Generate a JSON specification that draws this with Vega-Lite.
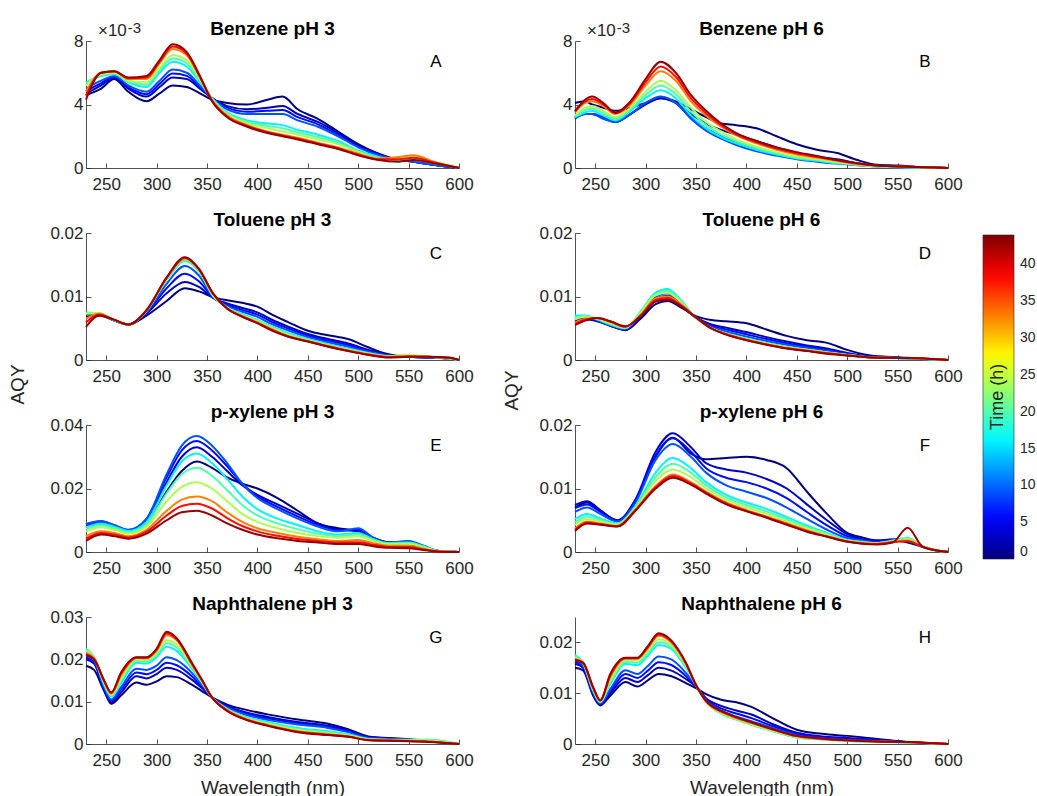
{
"$schema": "https://vega.github.io/schema/vega-lite/v6.json",
"background": "white",
"padding": {"left": 8, "top": 19, "right": 0, "bottom": 2},
"columns": 2,
"spacing": {"row": 65, "column": 116},
"bounds": "flush",
"config": {
  "font": "Liberation Sans",
  "view": {"stroke": null},
  "axis": {"domainColor": "#262626", "tickColor": "#262626", "labelColor": "#262626", "labelFontSize": 17, "labelFont": "Liberation Sans", "tickSize": -5, "grid": false, "labelFlush": false, "labelOverlap": false, "titleFont": "Liberation Sans", "titleFontSize": 19, "titleFontWeight": "normal", "titleColor": "#262626", "domainWidth": 0.8, "tickWidth": 0.8},
  "axisX": {"labelPadding": 13},
  "axisY": {"labelPadding": 8},
  "title": {"fontSize": 19, "fontWeight": "bold", "color": "#000000", "offset": -6, "font": "Liberation Sans"}
},
"datasets": {
"A": [
{"t":0,"w":230,"v":4.6},{"t":0,"w":245,"v":5.0},{"t":0,"w":258,"v":5.6},{"t":0,"w":272,"v":4.8},{"t":0,"w":290,"v":4.2},{"t":0,"w":303,"v":4.7},{"t":0,"w":316,"v":5.2},{"t":0,"w":330,"v":5.1},{"t":0,"w":343,"v":4.7},{"t":0,"w":355,"v":4.3},{"t":0,"w":370,"v":4.1},{"t":0,"w":390,"v":4.0},{"t":0,"w":410,"v":4.3},{"t":0,"w":425,"v":4.5},{"t":0,"w":440,"v":3.7},{"t":0,"w":460,"v":3.1},{"t":0,"w":480,"v":2.3},{"t":0,"w":500,"v":1.5},{"t":0,"w":520,"v":0.9},{"t":0,"w":540,"v":0.5},{"t":0,"w":555,"v":0.4},{"t":0,"w":575,"v":0.2},{"t":0,"w":600,"v":0},
{"t":3,"w":230,"v":4.7},{"t":3,"w":245,"v":5.2},{"t":3,"w":258,"v":5.7},{"t":3,"w":272,"v":5.0},{"t":3,"w":290,"v":4.5},{"t":3,"w":303,"v":5.1},{"t":3,"w":316,"v":5.7},{"t":3,"w":330,"v":5.6},{"t":3,"w":343,"v":5.0},{"t":3,"w":355,"v":4.4},{"t":3,"w":370,"v":3.9},{"t":3,"w":390,"v":3.7},{"t":3,"w":410,"v":3.8},{"t":3,"w":425,"v":3.9},{"t":3,"w":440,"v":3.4},{"t":3,"w":460,"v":2.9},{"t":3,"w":480,"v":2.2},{"t":3,"w":500,"v":1.4},{"t":3,"w":520,"v":0.9},{"t":3,"w":540,"v":0.5},{"t":3,"w":555,"v":0.4},{"t":3,"w":575,"v":0.2},{"t":3,"w":600,"v":0},
{"t":6,"w":230,"v":4.85},{"t":6,"w":245,"v":5.35},{"t":6,"w":258,"v":5.75},{"t":6,"w":272,"v":5.1},{"t":6,"w":290,"v":4.65},{"t":6,"w":303,"v":5.3},{"t":6,"w":316,"v":5.95},{"t":6,"w":330,"v":5.8},{"t":6,"w":343,"v":5.1},{"t":6,"w":355,"v":4.4},{"t":6,"w":370,"v":3.8},{"t":6,"w":390,"v":3.55},{"t":6,"w":410,"v":3.6},{"t":6,"w":425,"v":3.65},{"t":6,"w":440,"v":3.2},{"t":6,"w":460,"v":2.75},{"t":6,"w":480,"v":2.1},{"t":6,"w":500,"v":1.35},{"t":6,"w":520,"v":0.85},{"t":6,"w":540,"v":0.5},{"t":6,"w":555,"v":0.4},{"t":6,"w":575,"v":0.2},{"t":6,"w":600,"v":0},
{"t":9,"w":230,"v":5.0},{"t":9,"w":245,"v":5.5},{"t":9,"w":258,"v":5.8},{"t":9,"w":272,"v":5.2},{"t":9,"w":290,"v":4.8},{"t":9,"w":303,"v":5.5},{"t":9,"w":316,"v":6.2},{"t":9,"w":330,"v":6.0},{"t":9,"w":343,"v":5.2},{"t":9,"w":355,"v":4.4},{"t":9,"w":370,"v":3.7},{"t":9,"w":390,"v":3.4},{"t":9,"w":410,"v":3.4},{"t":9,"w":425,"v":3.4},{"t":9,"w":440,"v":3.0},{"t":9,"w":460,"v":2.6},{"t":9,"w":480,"v":2.0},{"t":9,"w":500,"v":1.3},{"t":9,"w":520,"v":0.8},{"t":9,"w":540,"v":0.5},{"t":9,"w":555,"v":0.4},{"t":9,"w":575,"v":0.2},{"t":9,"w":600,"v":0},
{"t":16,"w":230,"v":5.4},{"t":16,"w":245,"v":5.8},{"t":16,"w":258,"v":5.9},{"t":16,"w":272,"v":5.4},{"t":16,"w":290,"v":5.1},{"t":16,"w":303,"v":6.0},{"t":16,"w":316,"v":6.7},{"t":16,"w":330,"v":6.4},{"t":16,"w":343,"v":5.4},{"t":16,"w":355,"v":4.4},{"t":16,"w":370,"v":3.5},{"t":16,"w":390,"v":3.0},{"t":16,"w":410,"v":2.8},{"t":16,"w":425,"v":2.7},{"t":16,"w":440,"v":2.4},{"t":16,"w":460,"v":2.1},{"t":16,"w":480,"v":1.7},{"t":16,"w":500,"v":1.1},{"t":16,"w":520,"v":0.7},{"t":16,"w":540,"v":0.5},{"t":16,"w":555,"v":0.5},{"t":16,"w":575,"v":0.3},{"t":16,"w":600,"v":0},
{"t":20,"w":230,"v":5.3},{"t":20,"w":245,"v":5.85},{"t":20,"w":258,"v":5.95},{"t":20,"w":272,"v":5.45},{"t":20,"w":290,"v":5.25},{"t":20,"w":303,"v":6.15},{"t":20,"w":316,"v":6.9},{"t":20,"w":330,"v":6.6},{"t":20,"w":343,"v":5.5},{"t":20,"w":355,"v":4.35},{"t":20,"w":370,"v":3.45},{"t":20,"w":390,"v":2.9},{"t":20,"w":410,"v":2.65},{"t":20,"w":425,"v":2.5},{"t":20,"w":440,"v":2.25},{"t":20,"w":460,"v":1.95},{"t":20,"w":480,"v":1.6},{"t":20,"w":500,"v":1.05},{"t":20,"w":520,"v":0.65},{"t":20,"w":540,"v":0.55},{"t":20,"w":555,"v":0.6},{"t":20,"w":575,"v":0.35},{"t":20,"w":600,"v":0},
{"t":24,"w":230,"v":5.2},{"t":24,"w":245,"v":5.9},{"t":24,"w":258,"v":6.0},{"t":24,"w":272,"v":5.5},{"t":24,"w":290,"v":5.4},{"t":24,"w":303,"v":6.3},{"t":24,"w":316,"v":7.1},{"t":24,"w":330,"v":6.8},{"t":24,"w":343,"v":5.6},{"t":24,"w":355,"v":4.3},{"t":24,"w":370,"v":3.4},{"t":24,"w":390,"v":2.8},{"t":24,"w":410,"v":2.5},{"t":24,"w":425,"v":2.3},{"t":24,"w":440,"v":2.1},{"t":24,"w":460,"v":1.8},{"t":24,"w":480,"v":1.5},{"t":24,"w":500,"v":1.0},{"t":24,"w":520,"v":0.6},{"t":24,"w":540,"v":0.6},{"t":24,"w":555,"v":0.7},{"t":24,"w":575,"v":0.4},{"t":24,"w":600,"v":0},
{"t":33,"w":230,"v":4.8},{"t":33,"w":245,"v":6.0},{"t":33,"w":258,"v":6.1},{"t":33,"w":272,"v":5.6},{"t":33,"w":290,"v":5.6},{"t":33,"w":303,"v":6.6},{"t":33,"w":316,"v":7.5},{"t":33,"w":330,"v":7.1},{"t":33,"w":343,"v":5.7},{"t":33,"w":355,"v":4.3},{"t":33,"w":370,"v":3.3},{"t":33,"w":390,"v":2.7},{"t":33,"w":410,"v":2.3},{"t":33,"w":425,"v":2.1},{"t":33,"w":440,"v":1.9},{"t":33,"w":460,"v":1.6},{"t":33,"w":480,"v":1.3},{"t":33,"w":500,"v":0.9},{"t":33,"w":520,"v":0.6},{"t":33,"w":540,"v":0.7},{"t":33,"w":555,"v":0.8},{"t":33,"w":575,"v":0.4},{"t":33,"w":600,"v":0},
{"t":38,"w":230,"v":4.55},{"t":38,"w":245,"v":6.0},{"t":38,"w":258,"v":6.1},{"t":38,"w":272,"v":5.65},{"t":38,"w":290,"v":5.7},{"t":38,"w":303,"v":6.7},{"t":38,"w":316,"v":7.65},{"t":38,"w":330,"v":7.2},{"t":38,"w":343,"v":5.75},{"t":38,"w":355,"v":4.25},{"t":38,"w":370,"v":3.25},{"t":38,"w":390,"v":2.65},{"t":38,"w":410,"v":2.25},{"t":38,"w":425,"v":2.05},{"t":38,"w":440,"v":1.85},{"t":38,"w":460,"v":1.55},{"t":38,"w":480,"v":1.25},{"t":38,"w":500,"v":0.85},{"t":38,"w":520,"v":0.55},{"t":38,"w":540,"v":0.55},{"t":38,"w":555,"v":0.65},{"t":38,"w":575,"v":0.35},{"t":38,"w":600,"v":0},
{"t":43,"w":230,"v":4.3},{"t":43,"w":245,"v":6.0},{"t":43,"w":258,"v":6.1},{"t":43,"w":272,"v":5.7},{"t":43,"w":290,"v":5.8},{"t":43,"w":303,"v":6.8},{"t":43,"w":316,"v":7.8},{"t":43,"w":330,"v":7.3},{"t":43,"w":343,"v":5.8},{"t":43,"w":355,"v":4.2},{"t":43,"w":370,"v":3.2},{"t":43,"w":390,"v":2.6},{"t":43,"w":410,"v":2.2},{"t":43,"w":425,"v":2.0},{"t":43,"w":440,"v":1.8},{"t":43,"w":460,"v":1.5},{"t":43,"w":480,"v":1.2},{"t":43,"w":500,"v":0.8},{"t":43,"w":520,"v":0.5},{"t":43,"w":540,"v":0.4},{"t":43,"w":555,"v":0.5},{"t":43,"w":575,"v":0.3},{"t":43,"w":600,"v":0}
],
"B": [
{"t":0,"w":230,"v":4.1},{"t":0,"w":240,"v":4.2},{"t":0,"w":247,"v":4.0},{"t":0,"w":258,"v":3.8},{"t":0,"w":270,"v":3.6},{"t":0,"w":285,"v":3.8},{"t":0,"w":300,"v":4.1},{"t":0,"w":315,"v":4.4},{"t":0,"w":330,"v":4.2},{"t":0,"w":345,"v":3.7},{"t":0,"w":360,"v":3.2},{"t":0,"w":375,"v":2.8},{"t":0,"w":390,"v":2.7},{"t":0,"w":410,"v":2.5},{"t":0,"w":430,"v":2.0},{"t":0,"w":450,"v":1.5},{"t":0,"w":470,"v":1.15},{"t":0,"w":490,"v":0.95},{"t":0,"w":510,"v":0.5},{"t":0,"w":530,"v":0.2},{"t":0,"w":550,"v":0.15},{"t":0,"w":575,"v":0.05},{"t":0,"w":600,"v":0},
{"t":3,"w":230,"v":3.2},{"t":3,"w":240,"v":3.4},{"t":3,"w":247,"v":3.4},{"t":3,"w":258,"v":3.2},{"t":3,"w":270,"v":2.9},{"t":3,"w":285,"v":3.4},{"t":3,"w":300,"v":4.0},{"t":3,"w":315,"v":4.4},{"t":3,"w":330,"v":4.1},{"t":3,"w":345,"v":3.4},{"t":3,"w":360,"v":2.8},{"t":3,"w":375,"v":2.4},{"t":3,"w":390,"v":2.1},{"t":3,"w":410,"v":1.7},{"t":3,"w":430,"v":1.3},{"t":3,"w":450,"v":0.95},{"t":3,"w":470,"v":0.7},{"t":3,"w":490,"v":0.55},{"t":3,"w":510,"v":0.3},{"t":3,"w":530,"v":0.15},{"t":3,"w":550,"v":0.1},{"t":3,"w":575,"v":0.05},{"t":3,"w":600,"v":0},
{"t":6,"w":230,"v":3.15},{"t":6,"w":240,"v":3.4},{"t":6,"w":247,"v":3.4},{"t":6,"w":258,"v":3.15},{"t":6,"w":270,"v":2.9},{"t":6,"w":285,"v":3.4},{"t":6,"w":300,"v":4.05},{"t":6,"w":315,"v":4.45},{"t":6,"w":330,"v":4.1},{"t":6,"w":345,"v":3.2},{"t":6,"w":360,"v":2.5},{"t":6,"w":375,"v":2.0},{"t":6,"w":390,"v":1.6},{"t":6,"w":410,"v":1.2},{"t":6,"w":430,"v":0.9},{"t":6,"w":450,"v":0.65},{"t":6,"w":470,"v":0.48},{"t":6,"w":490,"v":0.35},{"t":6,"w":510,"v":0.22},{"t":6,"w":530,"v":0.12},{"t":6,"w":550,"v":0.07},{"t":6,"w":575,"v":0.03},{"t":6,"w":600,"v":0},
{"t":9,"w":230,"v":3.1},{"t":9,"w":240,"v":3.4},{"t":9,"w":247,"v":3.4},{"t":9,"w":258,"v":3.1},{"t":9,"w":270,"v":2.9},{"t":9,"w":285,"v":3.4},{"t":9,"w":300,"v":4.1},{"t":9,"w":315,"v":4.5},{"t":9,"w":330,"v":4.1},{"t":9,"w":345,"v":3.1},{"t":9,"w":360,"v":2.35},{"t":9,"w":375,"v":1.85},{"t":9,"w":390,"v":1.45},{"t":9,"w":410,"v":1.05},{"t":9,"w":430,"v":0.78},{"t":9,"w":450,"v":0.55},{"t":9,"w":470,"v":0.4},{"t":9,"w":490,"v":0.28},{"t":9,"w":510,"v":0.18},{"t":9,"w":530,"v":0.1},{"t":9,"w":550,"v":0.05},{"t":9,"w":575,"v":0.02},{"t":9,"w":600,"v":0},
{"t":16,"w":230,"v":3.2},{"t":16,"w":240,"v":3.5},{"t":16,"w":247,"v":3.6},{"t":16,"w":258,"v":3.3},{"t":16,"w":270,"v":3.0},{"t":16,"w":285,"v":3.6},{"t":16,"w":300,"v":4.4},{"t":16,"w":315,"v":4.9},{"t":16,"w":330,"v":4.4},{"t":16,"w":345,"v":3.3},{"t":16,"w":360,"v":2.5},{"t":16,"w":375,"v":1.95},{"t":16,"w":390,"v":1.55},{"t":16,"w":410,"v":1.15},{"t":16,"w":430,"v":0.85},{"t":16,"w":450,"v":0.6},{"t":16,"w":470,"v":0.45},{"t":16,"w":490,"v":0.3},{"t":16,"w":510,"v":0.2},{"t":16,"w":530,"v":0.1},{"t":16,"w":550,"v":0.05},{"t":16,"w":575,"v":0.02},{"t":16,"w":600,"v":0},
{"t":20,"w":230,"v":3.25},{"t":20,"w":240,"v":3.65},{"t":20,"w":247,"v":3.75},{"t":20,"w":258,"v":3.45},{"t":20,"w":270,"v":3.1},{"t":20,"w":285,"v":3.7},{"t":20,"w":300,"v":4.6},{"t":20,"w":315,"v":5.2},{"t":20,"w":330,"v":4.65},{"t":20,"w":345,"v":3.55},{"t":20,"w":360,"v":2.7},{"t":20,"w":375,"v":2.1},{"t":20,"w":390,"v":1.68},{"t":20,"w":410,"v":1.25},{"t":20,"w":430,"v":0.92},{"t":20,"w":450,"v":0.66},{"t":20,"w":470,"v":0.5},{"t":20,"w":490,"v":0.34},{"t":20,"w":510,"v":0.21},{"t":20,"w":530,"v":0.11},{"t":20,"w":550,"v":0.06},{"t":20,"w":575,"v":0.03},{"t":20,"w":600,"v":0},
{"t":24,"w":230,"v":3.3},{"t":24,"w":240,"v":3.8},{"t":24,"w":247,"v":3.9},{"t":24,"w":258,"v":3.6},{"t":24,"w":270,"v":3.2},{"t":24,"w":285,"v":3.8},{"t":24,"w":300,"v":4.8},{"t":24,"w":315,"v":5.5},{"t":24,"w":330,"v":4.9},{"t":24,"w":345,"v":3.8},{"t":24,"w":360,"v":2.9},{"t":24,"w":375,"v":2.3},{"t":24,"w":390,"v":1.8},{"t":24,"w":410,"v":1.35},{"t":24,"w":430,"v":1.0},{"t":24,"w":450,"v":0.72},{"t":24,"w":470,"v":0.55},{"t":24,"w":490,"v":0.38},{"t":24,"w":510,"v":0.22},{"t":24,"w":530,"v":0.12},{"t":24,"w":550,"v":0.08},{"t":24,"w":575,"v":0.04},{"t":24,"w":600,"v":0},
{"t":33,"w":230,"v":3.5},{"t":33,"w":240,"v":4.1},{"t":33,"w":247,"v":4.2},{"t":33,"w":258,"v":3.9},{"t":33,"w":270,"v":3.4},{"t":33,"w":285,"v":4.0},{"t":33,"w":300,"v":5.2},{"t":33,"w":315,"v":6.1},{"t":33,"w":330,"v":5.5},{"t":33,"w":345,"v":4.2},{"t":33,"w":360,"v":3.3},{"t":33,"w":375,"v":2.6},{"t":33,"w":390,"v":2.05},{"t":33,"w":410,"v":1.55},{"t":33,"w":430,"v":1.15},{"t":33,"w":450,"v":0.85},{"t":33,"w":470,"v":0.65},{"t":33,"w":490,"v":0.45},{"t":33,"w":510,"v":0.25},{"t":33,"w":530,"v":0.14},{"t":33,"w":550,"v":0.1},{"t":33,"w":575,"v":0.05},{"t":33,"w":600,"v":0},
{"t":38,"w":230,"v":3.55},{"t":38,"w":240,"v":4.2},{"t":38,"w":247,"v":4.35},{"t":38,"w":258,"v":4.0},{"t":38,"w":270,"v":3.45},{"t":38,"w":285,"v":4.1},{"t":38,"w":300,"v":5.4},{"t":38,"w":315,"v":6.4},{"t":38,"w":330,"v":5.75},{"t":38,"w":345,"v":4.4},{"t":38,"w":360,"v":3.45},{"t":38,"w":375,"v":2.7},{"t":38,"w":390,"v":2.12},{"t":38,"w":410,"v":1.62},{"t":38,"w":430,"v":1.22},{"t":38,"w":450,"v":0.92},{"t":38,"w":470,"v":0.7},{"t":38,"w":490,"v":0.48},{"t":38,"w":510,"v":0.28},{"t":38,"w":530,"v":0.15},{"t":38,"w":550,"v":0.1},{"t":38,"w":575,"v":0.05},{"t":38,"w":600,"v":0},
{"t":43,"w":230,"v":3.6},{"t":43,"w":240,"v":4.3},{"t":43,"w":247,"v":4.5},{"t":43,"w":258,"v":4.1},{"t":43,"w":270,"v":3.5},{"t":43,"w":285,"v":4.2},{"t":43,"w":300,"v":5.6},{"t":43,"w":315,"v":6.7},{"t":43,"w":330,"v":6.0},{"t":43,"w":345,"v":4.6},{"t":43,"w":360,"v":3.6},{"t":43,"w":375,"v":2.8},{"t":43,"w":390,"v":2.2},{"t":43,"w":410,"v":1.7},{"t":43,"w":430,"v":1.3},{"t":43,"w":450,"v":1.0},{"t":43,"w":470,"v":0.75},{"t":43,"w":490,"v":0.5},{"t":43,"w":510,"v":0.3},{"t":43,"w":530,"v":0.15},{"t":43,"w":550,"v":0.1},{"t":43,"w":575,"v":0.05},{"t":43,"w":600,"v":0}
],
"C": [
{"t":0,"w":230,"v":6.8},{"t":0,"w":243,"v":7.0},{"t":0,"w":257,"v":6.3},{"t":0,"w":272,"v":5.6},{"t":0,"w":290,"v":7.0},{"t":0,"w":310,"v":9.3},{"t":0,"w":328,"v":11.3},{"t":0,"w":342,"v":10.8},{"t":0,"w":356,"v":9.9},{"t":0,"w":370,"v":9.4},{"t":0,"w":385,"v":9.0},{"t":0,"w":400,"v":8.4},{"t":0,"w":415,"v":7.1},{"t":0,"w":430,"v":6.0},{"t":0,"w":450,"v":4.6},{"t":0,"w":470,"v":3.9},{"t":0,"w":490,"v":3.3},{"t":0,"w":510,"v":2.0},{"t":0,"w":530,"v":0.9},{"t":0,"w":550,"v":0.5},{"t":0,"w":570,"v":0.4},{"t":0,"w":590,"v":0.2},{"t":0,"w":600,"v":0},
{"t":3,"w":230,"v":7.2},{"t":3,"w":243,"v":7.2},{"t":3,"w":257,"v":6.3},{"t":3,"w":272,"v":5.6},{"t":3,"w":290,"v":7.3},{"t":3,"w":310,"v":10.5},{"t":3,"w":328,"v":12.3},{"t":3,"w":342,"v":11.5},{"t":3,"w":356,"v":9.8},{"t":3,"w":370,"v":8.9},{"t":3,"w":385,"v":8.2},{"t":3,"w":400,"v":7.5},{"t":3,"w":415,"v":6.3},{"t":3,"w":430,"v":5.3},{"t":3,"w":450,"v":4.1},{"t":3,"w":470,"v":3.3},{"t":3,"w":490,"v":2.6},{"t":3,"w":510,"v":1.6},{"t":3,"w":530,"v":0.8},{"t":3,"w":550,"v":0.5},{"t":3,"w":570,"v":0.4},{"t":3,"w":590,"v":0.2},{"t":3,"w":600,"v":0},
{"t":6,"w":230,"v":7.25},{"t":6,"w":243,"v":7.25},{"t":6,"w":257,"v":6.3},{"t":6,"w":272,"v":5.6},{"t":6,"w":290,"v":7.45},{"t":6,"w":310,"v":11.3},{"t":6,"w":328,"v":13.6},{"t":6,"w":342,"v":12.4},{"t":6,"w":356,"v":9.85},{"t":6,"w":370,"v":8.7},{"t":6,"w":385,"v":7.9},{"t":6,"w":400,"v":7.15},{"t":6,"w":415,"v":5.95},{"t":6,"w":430,"v":5.0},{"t":6,"w":450,"v":3.85},{"t":6,"w":470,"v":3.05},{"t":6,"w":490,"v":2.35},{"t":6,"w":510,"v":1.45},{"t":6,"w":530,"v":0.75},{"t":6,"w":550,"v":0.5},{"t":6,"w":570,"v":0.4},{"t":6,"w":590,"v":0.2},{"t":6,"w":600,"v":0},
{"t":9,"w":230,"v":7.3},{"t":9,"w":243,"v":7.3},{"t":9,"w":257,"v":6.3},{"t":9,"w":272,"v":5.6},{"t":9,"w":290,"v":7.6},{"t":9,"w":310,"v":12.0},{"t":9,"w":328,"v":14.8},{"t":9,"w":342,"v":13.3},{"t":9,"w":356,"v":9.9},{"t":9,"w":370,"v":8.5},{"t":9,"w":385,"v":7.6},{"t":9,"w":400,"v":6.8},{"t":9,"w":415,"v":5.6},{"t":9,"w":430,"v":4.7},{"t":9,"w":450,"v":3.6},{"t":9,"w":470,"v":2.8},{"t":9,"w":490,"v":2.1},{"t":9,"w":510,"v":1.3},{"t":9,"w":530,"v":0.7},{"t":9,"w":550,"v":0.5},{"t":9,"w":570,"v":0.4},{"t":9,"w":590,"v":0.2},{"t":9,"w":600,"v":0},
{"t":16,"w":230,"v":7.5},{"t":16,"w":243,"v":7.3},{"t":16,"w":257,"v":6.3},{"t":16,"w":272,"v":5.6},{"t":16,"w":290,"v":7.7},{"t":16,"w":310,"v":12.6},{"t":16,"w":328,"v":15.6},{"t":16,"w":342,"v":14.0},{"t":16,"w":356,"v":10.1},{"t":16,"w":370,"v":8.3},{"t":16,"w":385,"v":7.2},{"t":16,"w":400,"v":6.3},{"t":16,"w":415,"v":5.2},{"t":16,"w":430,"v":4.3},{"t":16,"w":450,"v":3.3},{"t":16,"w":470,"v":2.5},{"t":16,"w":490,"v":1.8},{"t":16,"w":510,"v":1.1},{"t":16,"w":530,"v":0.6},{"t":16,"w":550,"v":0.6},{"t":16,"w":570,"v":0.5},{"t":16,"w":590,"v":0.2},{"t":16,"w":600,"v":0},
{"t":20,"w":230,"v":7.4},{"t":20,"w":243,"v":7.35},{"t":20,"w":257,"v":6.35},{"t":20,"w":272,"v":5.6},{"t":20,"w":290,"v":7.75},{"t":20,"w":310,"v":12.7},{"t":20,"w":328,"v":15.75},{"t":20,"w":342,"v":14.1},{"t":20,"w":356,"v":10.15},{"t":20,"w":370,"v":8.25},{"t":20,"w":385,"v":7.1},{"t":20,"w":400,"v":6.2},{"t":20,"w":415,"v":5.1},{"t":20,"w":430,"v":4.15},{"t":20,"w":450,"v":3.2},{"t":20,"w":470,"v":2.4},{"t":20,"w":490,"v":1.7},{"t":20,"w":510,"v":1.05},{"t":20,"w":530,"v":0.6},{"t":20,"w":550,"v":0.7},{"t":20,"w":570,"v":0.5},{"t":20,"w":590,"v":0.25},{"t":20,"w":600,"v":0},
{"t":24,"w":230,"v":7.3},{"t":24,"w":243,"v":7.4},{"t":24,"w":257,"v":6.4},{"t":24,"w":272,"v":5.6},{"t":24,"w":290,"v":7.8},{"t":24,"w":310,"v":12.8},{"t":24,"w":328,"v":15.9},{"t":24,"w":342,"v":14.2},{"t":24,"w":356,"v":10.2},{"t":24,"w":370,"v":8.2},{"t":24,"w":385,"v":7.0},{"t":24,"w":400,"v":6.1},{"t":24,"w":415,"v":5.0},{"t":24,"w":430,"v":4.0},{"t":24,"w":450,"v":3.1},{"t":24,"w":470,"v":2.3},{"t":24,"w":490,"v":1.6},{"t":24,"w":510,"v":1.0},{"t":24,"w":530,"v":0.6},{"t":24,"w":550,"v":0.8},{"t":24,"w":570,"v":0.5},{"t":24,"w":590,"v":0.3},{"t":24,"w":600,"v":0},
{"t":33,"w":230,"v":6.5},{"t":33,"w":243,"v":7.3},{"t":33,"w":257,"v":6.4},{"t":33,"w":272,"v":5.6},{"t":33,"w":290,"v":7.9},{"t":33,"w":310,"v":12.9},{"t":33,"w":328,"v":16.0},{"t":33,"w":342,"v":14.4},{"t":33,"w":356,"v":10.4},{"t":33,"w":370,"v":8.1},{"t":33,"w":385,"v":6.9},{"t":33,"w":400,"v":5.9},{"t":33,"w":415,"v":4.8},{"t":33,"w":430,"v":3.8},{"t":33,"w":450,"v":3.0},{"t":33,"w":470,"v":2.2},{"t":33,"w":490,"v":1.5},{"t":33,"w":510,"v":0.9},{"t":33,"w":530,"v":0.5},{"t":33,"w":550,"v":0.6},{"t":33,"w":570,"v":0.5},{"t":33,"w":590,"v":0.3},{"t":33,"w":600,"v":0},
{"t":38,"w":230,"v":5.9},{"t":38,"w":243,"v":7.15},{"t":38,"w":257,"v":6.4},{"t":38,"w":272,"v":5.6},{"t":38,"w":290,"v":7.85},{"t":38,"w":310,"v":12.95},{"t":38,"w":328,"v":16.1},{"t":38,"w":342,"v":14.35},{"t":38,"w":356,"v":10.45},{"t":38,"w":370,"v":8.1},{"t":38,"w":385,"v":6.85},{"t":38,"w":400,"v":5.85},{"t":38,"w":415,"v":4.7},{"t":38,"w":430,"v":3.75},{"t":38,"w":450,"v":2.95},{"t":38,"w":470,"v":2.15},{"t":38,"w":490,"v":1.45},{"t":38,"w":510,"v":0.85},{"t":38,"w":530,"v":0.45},{"t":38,"w":550,"v":0.55},{"t":38,"w":570,"v":0.5},{"t":38,"w":590,"v":0.35},{"t":38,"w":600,"v":0},
{"t":43,"w":230,"v":5.2},{"t":43,"w":243,"v":7.0},{"t":43,"w":257,"v":6.4},{"t":43,"w":272,"v":5.6},{"t":43,"w":290,"v":7.8},{"t":43,"w":310,"v":13.0},{"t":43,"w":328,"v":16.2},{"t":43,"w":342,"v":14.3},{"t":43,"w":356,"v":10.5},{"t":43,"w":370,"v":8.1},{"t":43,"w":385,"v":6.8},{"t":43,"w":400,"v":5.8},{"t":43,"w":415,"v":4.6},{"t":43,"w":430,"v":3.7},{"t":43,"w":450,"v":2.9},{"t":43,"w":470,"v":2.1},{"t":43,"w":490,"v":1.4},{"t":43,"w":510,"v":0.8},{"t":43,"w":530,"v":0.4},{"t":43,"w":550,"v":0.5},{"t":43,"w":570,"v":0.5},{"t":43,"w":590,"v":0.4},{"t":43,"w":600,"v":0}
],
"D": [
{"t":0,"w":230,"v":6.0},{"t":0,"w":240,"v":6.4},{"t":0,"w":252,"v":6.1},{"t":0,"w":265,"v":5.4},{"t":0,"w":280,"v":4.7},{"t":0,"w":295,"v":6.5},{"t":0,"w":310,"v":8.8},{"t":0,"w":322,"v":9.3},{"t":0,"w":335,"v":8.3},{"t":0,"w":350,"v":6.9},{"t":0,"w":365,"v":6.3},{"t":0,"w":380,"v":6.1},{"t":0,"w":400,"v":5.8},{"t":0,"w":420,"v":4.8},{"t":0,"w":440,"v":3.8},{"t":0,"w":460,"v":3.1},{"t":0,"w":480,"v":2.7},{"t":0,"w":500,"v":1.6},{"t":0,"w":520,"v":0.8},{"t":0,"w":540,"v":0.5},{"t":0,"w":560,"v":0.35},{"t":0,"w":580,"v":0.15},{"t":0,"w":600,"v":0},
{"t":3,"w":230,"v":6.2},{"t":3,"w":240,"v":6.6},{"t":3,"w":252,"v":6.2},{"t":3,"w":265,"v":5.4},{"t":3,"w":280,"v":4.8},{"t":3,"w":295,"v":6.8},{"t":3,"w":310,"v":9.3},{"t":3,"w":322,"v":9.7},{"t":3,"w":335,"v":8.5},{"t":3,"w":350,"v":6.7},{"t":3,"w":365,"v":5.6},{"t":3,"w":380,"v":5.1},{"t":3,"w":400,"v":4.4},{"t":3,"w":420,"v":3.6},{"t":3,"w":440,"v":2.9},{"t":3,"w":460,"v":2.3},{"t":3,"w":480,"v":1.8},{"t":3,"w":500,"v":1.1},{"t":3,"w":520,"v":0.6},{"t":3,"w":540,"v":0.4},{"t":3,"w":560,"v":0.3},{"t":3,"w":580,"v":0.15},{"t":3,"w":600,"v":0},
{"t":6,"w":230,"v":6.4},{"t":6,"w":240,"v":6.7},{"t":6,"w":252,"v":6.25},{"t":6,"w":265,"v":5.45},{"t":6,"w":280,"v":4.85},{"t":6,"w":295,"v":7.0},{"t":6,"w":310,"v":9.65},{"t":6,"w":322,"v":10.1},{"t":6,"w":335,"v":8.75},{"t":6,"w":350,"v":6.65},{"t":6,"w":365,"v":5.4},{"t":6,"w":380,"v":4.8},{"t":6,"w":400,"v":4.05},{"t":6,"w":420,"v":3.3},{"t":6,"w":440,"v":2.65},{"t":6,"w":460,"v":2.1},{"t":6,"w":480,"v":1.6},{"t":6,"w":500,"v":1.0},{"t":6,"w":520,"v":0.55},{"t":6,"w":540,"v":0.38},{"t":6,"w":560,"v":0.28},{"t":6,"w":580,"v":0.13},{"t":6,"w":600,"v":0},
{"t":9,"w":230,"v":6.6},{"t":9,"w":240,"v":6.8},{"t":9,"w":252,"v":6.3},{"t":9,"w":265,"v":5.5},{"t":9,"w":280,"v":4.9},{"t":9,"w":295,"v":7.2},{"t":9,"w":310,"v":10.0},{"t":9,"w":322,"v":10.5},{"t":9,"w":335,"v":9.0},{"t":9,"w":350,"v":6.6},{"t":9,"w":365,"v":5.2},{"t":9,"w":380,"v":4.5},{"t":9,"w":400,"v":3.7},{"t":9,"w":420,"v":3.0},{"t":9,"w":440,"v":2.4},{"t":9,"w":460,"v":1.9},{"t":9,"w":480,"v":1.4},{"t":9,"w":500,"v":0.9},{"t":9,"w":520,"v":0.5},{"t":9,"w":540,"v":0.35},{"t":9,"w":560,"v":0.25},{"t":9,"w":580,"v":0.12},{"t":9,"w":600,"v":0},
{"t":16,"w":230,"v":7.0},{"t":16,"w":240,"v":7.0},{"t":16,"w":252,"v":6.4},{"t":16,"w":265,"v":5.6},{"t":16,"w":280,"v":5.0},{"t":16,"w":295,"v":7.6},{"t":16,"w":310,"v":10.6},{"t":16,"w":322,"v":11.2},{"t":16,"w":335,"v":9.4},{"t":16,"w":350,"v":6.6},{"t":16,"w":365,"v":5.0},{"t":16,"w":380,"v":4.2},{"t":16,"w":400,"v":3.4},{"t":16,"w":420,"v":2.7},{"t":16,"w":440,"v":2.1},{"t":16,"w":460,"v":1.6},{"t":16,"w":480,"v":1.2},{"t":16,"w":500,"v":0.8},{"t":16,"w":520,"v":0.45},{"t":16,"w":540,"v":0.3},{"t":16,"w":560,"v":0.25},{"t":16,"w":580,"v":0.12},{"t":16,"w":600,"v":0},
{"t":20,"w":230,"v":6.7},{"t":20,"w":240,"v":6.9},{"t":20,"w":252,"v":6.45},{"t":20,"w":265,"v":5.7},{"t":20,"w":280,"v":5.05},{"t":20,"w":295,"v":7.5},{"t":20,"w":310,"v":10.4},{"t":20,"w":322,"v":10.9},{"t":20,"w":335,"v":9.25},{"t":20,"w":350,"v":6.6},{"t":20,"w":365,"v":5.0},{"t":20,"w":380,"v":4.15},{"t":20,"w":400,"v":3.35},{"t":20,"w":420,"v":2.65},{"t":20,"w":440,"v":2.05},{"t":20,"w":460,"v":1.6},{"t":20,"w":480,"v":1.2},{"t":20,"w":500,"v":0.8},{"t":20,"w":520,"v":0.45},{"t":20,"w":540,"v":0.32},{"t":20,"w":560,"v":0.28},{"t":20,"w":580,"v":0.13},{"t":20,"w":600,"v":0},
{"t":24,"w":230,"v":6.4},{"t":24,"w":240,"v":6.8},{"t":24,"w":252,"v":6.5},{"t":24,"w":265,"v":5.8},{"t":24,"w":280,"v":5.1},{"t":24,"w":295,"v":7.4},{"t":24,"w":310,"v":10.2},{"t":24,"w":322,"v":10.6},{"t":24,"w":335,"v":9.1},{"t":24,"w":350,"v":6.6},{"t":24,"w":365,"v":5.0},{"t":24,"w":380,"v":4.1},{"t":24,"w":400,"v":3.3},{"t":24,"w":420,"v":2.6},{"t":24,"w":440,"v":2.0},{"t":24,"w":460,"v":1.6},{"t":24,"w":480,"v":1.2},{"t":24,"w":500,"v":0.8},{"t":24,"w":520,"v":0.45},{"t":24,"w":540,"v":0.35},{"t":24,"w":560,"v":0.3},{"t":24,"w":580,"v":0.15},{"t":24,"w":600,"v":0},
{"t":33,"w":230,"v":5.9},{"t":33,"w":240,"v":6.5},{"t":33,"w":252,"v":6.6},{"t":33,"w":265,"v":6.0},{"t":33,"w":280,"v":5.2},{"t":33,"w":295,"v":7.1},{"t":33,"w":310,"v":9.7},{"t":33,"w":322,"v":10.0},{"t":33,"w":335,"v":8.8},{"t":33,"w":350,"v":6.7},{"t":33,"w":365,"v":5.0},{"t":33,"w":380,"v":4.1},{"t":33,"w":400,"v":3.2},{"t":33,"w":420,"v":2.5},{"t":33,"w":440,"v":1.9},{"t":33,"w":460,"v":1.5},{"t":33,"w":480,"v":1.1},{"t":33,"w":500,"v":0.75},{"t":33,"w":520,"v":0.45},{"t":33,"w":540,"v":0.35},{"t":33,"w":560,"v":0.3},{"t":33,"w":580,"v":0.18},{"t":33,"w":600,"v":0},
{"t":38,"w":230,"v":5.7},{"t":38,"w":240,"v":6.35},{"t":38,"w":252,"v":6.6},{"t":38,"w":265,"v":6.05},{"t":38,"w":280,"v":5.25},{"t":38,"w":295,"v":7.0},{"t":38,"w":310,"v":9.45},{"t":38,"w":322,"v":9.75},{"t":38,"w":335,"v":8.65},{"t":38,"w":350,"v":6.7},{"t":38,"w":365,"v":5.0},{"t":38,"w":380,"v":4.05},{"t":38,"w":400,"v":3.15},{"t":38,"w":420,"v":2.45},{"t":38,"w":440,"v":1.85},{"t":38,"w":460,"v":1.45},{"t":38,"w":480,"v":1.05},{"t":38,"w":500,"v":0.72},{"t":38,"w":520,"v":0.45},{"t":38,"w":540,"v":0.35},{"t":38,"w":560,"v":0.3},{"t":38,"w":580,"v":0.19},{"t":38,"w":600,"v":0},
{"t":43,"w":230,"v":5.5},{"t":43,"w":240,"v":6.2},{"t":43,"w":252,"v":6.6},{"t":43,"w":265,"v":6.1},{"t":43,"w":280,"v":5.3},{"t":43,"w":295,"v":6.9},{"t":43,"w":310,"v":9.2},{"t":43,"w":322,"v":9.5},{"t":43,"w":335,"v":8.5},{"t":43,"w":350,"v":6.7},{"t":43,"w":365,"v":5.0},{"t":43,"w":380,"v":4.0},{"t":43,"w":400,"v":3.1},{"t":43,"w":420,"v":2.4},{"t":43,"w":440,"v":1.8},{"t":43,"w":460,"v":1.4},{"t":43,"w":480,"v":1.0},{"t":43,"w":500,"v":0.7},{"t":43,"w":520,"v":0.45},{"t":43,"w":540,"v":0.35},{"t":43,"w":560,"v":0.3},{"t":43,"w":580,"v":0.2},{"t":43,"w":600,"v":0}
],
"E": [
{"t":0,"w":230,"v":8.0},{"t":0,"w":245,"v":9.0},{"t":0,"w":258,"v":8.0},{"t":0,"w":272,"v":6.5},{"t":0,"w":290,"v":9.0},{"t":0,"w":310,"v":19.0},{"t":0,"w":325,"v":25.5},{"t":0,"w":340,"v":28.5},{"t":0,"w":355,"v":26.5},{"t":0,"w":370,"v":23.5},{"t":0,"w":385,"v":21.5},{"t":0,"w":400,"v":20.0},{"t":0,"w":420,"v":17.0},{"t":0,"w":440,"v":13.0},{"t":0,"w":460,"v":9.0},{"t":0,"w":480,"v":7.5},{"t":0,"w":500,"v":6.5},{"t":0,"w":515,"v":4.5},{"t":0,"w":530,"v":3.0},{"t":0,"w":550,"v":2.5},{"t":0,"w":565,"v":1.5},{"t":0,"w":580,"v":0.3},{"t":0,"w":600,"v":0},
{"t":3,"w":230,"v":8.5},{"t":3,"w":245,"v":9.5},{"t":3,"w":258,"v":8.3},{"t":3,"w":272,"v":6.8},{"t":3,"w":290,"v":10.0},{"t":3,"w":310,"v":22.0},{"t":3,"w":325,"v":30.0},{"t":3,"w":340,"v":33.0},{"t":3,"w":355,"v":30.0},{"t":3,"w":370,"v":25.5},{"t":3,"w":385,"v":21.0},{"t":3,"w":400,"v":18.0},{"t":3,"w":420,"v":15.0},{"t":3,"w":440,"v":12.0},{"t":3,"w":460,"v":9.0},{"t":3,"w":480,"v":7.0},{"t":3,"w":500,"v":6.5},{"t":3,"w":515,"v":4.0},{"t":3,"w":530,"v":3.0},{"t":3,"w":550,"v":3.0},{"t":3,"w":565,"v":1.5},{"t":3,"w":580,"v":0.3},{"t":3,"w":600,"v":0},
{"t":6,"w":230,"v":8.7},{"t":6,"w":245,"v":9.7},{"t":6,"w":258,"v":8.4},{"t":6,"w":272,"v":6.9},{"t":6,"w":290,"v":10.3},{"t":6,"w":310,"v":23.5},{"t":6,"w":325,"v":32.0},{"t":6,"w":340,"v":35.0},{"t":6,"w":355,"v":32.0},{"t":6,"w":370,"v":27.0},{"t":6,"w":385,"v":21.5},{"t":6,"w":400,"v":17.5},{"t":6,"w":420,"v":14.2},{"t":6,"w":440,"v":11.2},{"t":6,"w":460,"v":8.5},{"t":6,"w":480,"v":6.8},{"t":6,"w":500,"v":7.0},{"t":6,"w":515,"v":4.3},{"t":6,"w":530,"v":3.0},{"t":6,"w":550,"v":3.3},{"t":6,"w":565,"v":1.8},{"t":6,"w":580,"v":0.3},{"t":6,"w":600,"v":0},
{"t":9,"w":230,"v":8.8},{"t":9,"w":245,"v":9.8},{"t":9,"w":258,"v":8.5},{"t":9,"w":272,"v":7.0},{"t":9,"w":290,"v":10.5},{"t":9,"w":310,"v":24.5},{"t":9,"w":325,"v":33.5},{"t":9,"w":340,"v":36.5},{"t":9,"w":355,"v":33.5},{"t":9,"w":370,"v":28.0},{"t":9,"w":385,"v":21.5},{"t":9,"w":400,"v":17.0},{"t":9,"w":420,"v":13.5},{"t":9,"w":440,"v":10.5},{"t":9,"w":460,"v":8.0},{"t":9,"w":480,"v":6.5},{"t":9,"w":500,"v":7.5},{"t":9,"w":515,"v":4.5},{"t":9,"w":530,"v":3.0},{"t":9,"w":550,"v":3.5},{"t":9,"w":565,"v":2.0},{"t":9,"w":580,"v":0.3},{"t":9,"w":600,"v":0},
{"t":16,"w":230,"v":7.8},{"t":16,"w":245,"v":9.0},{"t":16,"w":258,"v":8.0},{"t":16,"w":272,"v":6.6},{"t":16,"w":290,"v":9.5},{"t":16,"w":310,"v":21.0},{"t":16,"w":325,"v":28.5},{"t":16,"w":340,"v":31.0},{"t":16,"w":355,"v":28.0},{"t":16,"w":370,"v":23.0},{"t":16,"w":385,"v":17.5},{"t":16,"w":400,"v":13.5},{"t":16,"w":420,"v":10.5},{"t":16,"w":440,"v":8.5},{"t":16,"w":460,"v":6.5},{"t":16,"w":480,"v":5.5},{"t":16,"w":500,"v":6.0},{"t":16,"w":515,"v":4.0},{"t":16,"w":530,"v":2.8},{"t":16,"w":550,"v":3.0},{"t":16,"w":565,"v":1.8},{"t":16,"w":580,"v":0.3},{"t":16,"w":600,"v":0},
{"t":20,"w":230,"v":7.2},{"t":20,"w":245,"v":8.4},{"t":20,"w":258,"v":7.5},{"t":20,"w":272,"v":6.2},{"t":20,"w":290,"v":8.8},{"t":20,"w":310,"v":18.5},{"t":20,"w":325,"v":24.5},{"t":20,"w":340,"v":26.5},{"t":20,"w":355,"v":24.0},{"t":20,"w":370,"v":19.5},{"t":20,"w":385,"v":14.8},{"t":20,"w":400,"v":11.5},{"t":20,"w":420,"v":9.0},{"t":20,"w":440,"v":7.2},{"t":20,"w":460,"v":5.8},{"t":20,"w":480,"v":5.0},{"t":20,"w":500,"v":5.5},{"t":20,"w":515,"v":3.8},{"t":20,"w":530,"v":2.6},{"t":20,"w":550,"v":2.8},{"t":20,"w":565,"v":1.6},{"t":20,"w":580,"v":0.25},{"t":20,"w":600,"v":0},
{"t":24,"w":230,"v":6.5},{"t":24,"w":245,"v":7.8},{"t":24,"w":258,"v":7.0},{"t":24,"w":272,"v":5.8},{"t":24,"w":290,"v":8.0},{"t":24,"w":310,"v":16.0},{"t":24,"w":325,"v":20.5},{"t":24,"w":340,"v":22.0},{"t":24,"w":355,"v":20.0},{"t":24,"w":370,"v":16.0},{"t":24,"w":385,"v":12.0},{"t":24,"w":400,"v":9.5},{"t":24,"w":420,"v":7.5},{"t":24,"w":440,"v":6.0},{"t":24,"w":460,"v":5.0},{"t":24,"w":480,"v":4.5},{"t":24,"w":500,"v":5.0},{"t":24,"w":515,"v":3.5},{"t":24,"w":530,"v":2.5},{"t":24,"w":550,"v":2.5},{"t":24,"w":565,"v":1.5},{"t":24,"w":580,"v":0.2},{"t":24,"w":600,"v":0},
{"t":33,"w":230,"v":5.0},{"t":33,"w":245,"v":6.5},{"t":33,"w":258,"v":6.0},{"t":33,"w":272,"v":5.0},{"t":33,"w":290,"v":7.0},{"t":33,"w":310,"v":13.0},{"t":33,"w":325,"v":16.5},{"t":33,"w":340,"v":17.5},{"t":33,"w":355,"v":16.0},{"t":33,"w":370,"v":12.5},{"t":33,"w":385,"v":9.5},{"t":33,"w":400,"v":7.5},{"t":33,"w":420,"v":6.0},{"t":33,"w":440,"v":4.8},{"t":33,"w":460,"v":4.0},{"t":33,"w":480,"v":3.5},{"t":33,"w":500,"v":3.8},{"t":33,"w":515,"v":2.8},{"t":33,"w":530,"v":2.0},{"t":33,"w":550,"v":2.0},{"t":33,"w":565,"v":1.0},{"t":33,"w":580,"v":0.2},{"t":33,"w":600,"v":0},
{"t":38,"w":230,"v":4.2},{"t":38,"w":245,"v":6.0},{"t":38,"w":258,"v":5.5},{"t":38,"w":272,"v":4.6},{"t":38,"w":290,"v":6.4},{"t":38,"w":310,"v":11.5},{"t":38,"w":325,"v":14.5},{"t":38,"w":340,"v":15.2},{"t":38,"w":355,"v":13.7},{"t":38,"w":370,"v":10.7},{"t":38,"w":385,"v":8.2},{"t":38,"w":400,"v":6.5},{"t":38,"w":420,"v":5.1},{"t":38,"w":440,"v":4.1},{"t":38,"w":460,"v":3.5},{"t":38,"w":480,"v":3.0},{"t":38,"w":500,"v":3.1},{"t":38,"w":515,"v":2.3},{"t":38,"w":530,"v":1.6},{"t":38,"w":550,"v":1.6},{"t":38,"w":565,"v":0.8},{"t":38,"w":580,"v":0.15},{"t":38,"w":600,"v":0},
{"t":43,"w":230,"v":3.5},{"t":43,"w":245,"v":5.5},{"t":43,"w":258,"v":5.0},{"t":43,"w":272,"v":4.2},{"t":43,"w":290,"v":5.8},{"t":43,"w":310,"v":10.0},{"t":43,"w":325,"v":12.5},{"t":43,"w":340,"v":13.0},{"t":43,"w":355,"v":11.5},{"t":43,"w":370,"v":9.0},{"t":43,"w":385,"v":7.0},{"t":43,"w":400,"v":5.5},{"t":43,"w":420,"v":4.3},{"t":43,"w":440,"v":3.5},{"t":43,"w":460,"v":3.0},{"t":43,"w":480,"v":2.5},{"t":43,"w":500,"v":2.5},{"t":43,"w":515,"v":1.8},{"t":43,"w":530,"v":1.3},{"t":43,"w":550,"v":1.2},{"t":43,"w":565,"v":0.6},{"t":43,"w":580,"v":0.1},{"t":43,"w":600,"v":0}
],
"F": [
{"t":0,"w":230,"v":7.0},{"t":0,"w":242,"v":7.8},{"t":0,"w":255,"v":6.5},{"t":0,"w":272,"v":5.0},{"t":0,"w":290,"v":8.0},{"t":0,"w":310,"v":15.0},{"t":0,"w":327,"v":18.0},{"t":0,"w":345,"v":15.5},{"t":0,"w":360,"v":14.6},{"t":0,"w":380,"v":14.8},{"t":0,"w":400,"v":15.0},{"t":0,"w":420,"v":14.5},{"t":0,"w":440,"v":13.2},{"t":0,"w":460,"v":9.5},{"t":0,"w":480,"v":6.0},{"t":0,"w":500,"v":3.0},{"t":0,"w":515,"v":2.3},{"t":0,"w":530,"v":1.8},{"t":0,"w":545,"v":1.8},{"t":0,"w":560,"v":1.5},{"t":0,"w":575,"v":0.8},{"t":0,"w":590,"v":0.2},{"t":0,"w":600,"v":0},
{"t":3,"w":230,"v":7.4},{"t":3,"w":242,"v":8.0},{"t":3,"w":255,"v":6.6},{"t":3,"w":272,"v":5.0},{"t":3,"w":290,"v":8.3},{"t":3,"w":310,"v":15.8},{"t":3,"w":327,"v":18.7},{"t":3,"w":345,"v":16.5},{"t":3,"w":360,"v":14.0},{"t":3,"w":380,"v":13.0},{"t":3,"w":400,"v":12.5},{"t":3,"w":420,"v":11.5},{"t":3,"w":440,"v":10.0},{"t":3,"w":460,"v":7.5},{"t":3,"w":480,"v":5.0},{"t":3,"w":500,"v":2.8},{"t":3,"w":515,"v":2.0},{"t":3,"w":530,"v":1.8},{"t":3,"w":545,"v":2.0},{"t":3,"w":560,"v":1.8},{"t":3,"w":575,"v":0.8},{"t":3,"w":590,"v":0.2},{"t":3,"w":600,"v":0},
{"t":6,"w":230,"v":6.9},{"t":6,"w":242,"v":7.5},{"t":6,"w":255,"v":6.3},{"t":6,"w":272,"v":4.9},{"t":6,"w":290,"v":8.0},{"t":6,"w":310,"v":15.2},{"t":6,"w":327,"v":17.9},{"t":6,"w":345,"v":15.8},{"t":6,"w":360,"v":13.2},{"t":6,"w":380,"v":11.7},{"t":6,"w":400,"v":11.0},{"t":6,"w":420,"v":10.0},{"t":6,"w":440,"v":8.5},{"t":6,"w":460,"v":6.3},{"t":6,"w":480,"v":4.2},{"t":6,"w":500,"v":2.5},{"t":6,"w":515,"v":1.9},{"t":6,"w":530,"v":1.6},{"t":6,"w":545,"v":1.9},{"t":6,"w":560,"v":1.9},{"t":6,"w":575,"v":0.8},{"t":6,"w":590,"v":0.2},{"t":6,"w":600,"v":0},
{"t":9,"w":230,"v":6.3},{"t":9,"w":242,"v":7.0},{"t":9,"w":255,"v":6.0},{"t":9,"w":272,"v":4.8},{"t":9,"w":290,"v":7.8},{"t":9,"w":310,"v":14.5},{"t":9,"w":327,"v":17.0},{"t":9,"w":345,"v":15.0},{"t":9,"w":360,"v":12.5},{"t":9,"w":380,"v":10.5},{"t":9,"w":400,"v":9.5},{"t":9,"w":420,"v":8.5},{"t":9,"w":440,"v":7.0},{"t":9,"w":460,"v":5.2},{"t":9,"w":480,"v":3.5},{"t":9,"w":500,"v":2.2},{"t":9,"w":515,"v":1.8},{"t":9,"w":530,"v":1.5},{"t":9,"w":545,"v":1.8},{"t":9,"w":560,"v":2.0},{"t":9,"w":575,"v":0.8},{"t":9,"w":590,"v":0.2},{"t":9,"w":600,"v":0},
{"t":16,"w":230,"v":5.2},{"t":16,"w":242,"v":6.0},{"t":16,"w":255,"v":5.3},{"t":16,"w":272,"v":4.5},{"t":16,"w":290,"v":7.2},{"t":16,"w":310,"v":12.5},{"t":16,"w":327,"v":14.8},{"t":16,"w":345,"v":13.2},{"t":16,"w":360,"v":11.0},{"t":16,"w":380,"v":9.0},{"t":16,"w":400,"v":7.8},{"t":16,"w":420,"v":6.8},{"t":16,"w":440,"v":5.5},{"t":16,"w":460,"v":4.2},{"t":16,"w":480,"v":3.0},{"t":16,"w":500,"v":1.9},{"t":16,"w":515,"v":1.6},{"t":16,"w":530,"v":1.4},{"t":16,"w":545,"v":1.8},{"t":16,"w":560,"v":2.2},{"t":16,"w":575,"v":0.9},{"t":16,"w":590,"v":0.2},{"t":16,"w":600,"v":0},
{"t":20,"w":230,"v":4.7},{"t":20,"w":242,"v":5.6},{"t":20,"w":255,"v":5.05},{"t":20,"w":272,"v":4.4},{"t":20,"w":290,"v":7.05},{"t":20,"w":310,"v":11.8},{"t":20,"w":327,"v":13.9},{"t":20,"w":345,"v":12.5},{"t":20,"w":360,"v":10.5},{"t":20,"w":380,"v":8.6},{"t":20,"w":400,"v":7.4},{"t":20,"w":420,"v":6.4},{"t":20,"w":440,"v":5.15},{"t":20,"w":460,"v":3.95},{"t":20,"w":480,"v":2.85},{"t":20,"w":500,"v":1.85},{"t":20,"w":515,"v":1.55},{"t":20,"w":530,"v":1.4},{"t":20,"w":545,"v":1.75},{"t":20,"w":560,"v":2.1},{"t":20,"w":575,"v":0.9},{"t":20,"w":590,"v":0.2},{"t":20,"w":600,"v":0},
{"t":24,"w":230,"v":4.3},{"t":24,"w":242,"v":5.2},{"t":24,"w":255,"v":4.8},{"t":24,"w":272,"v":4.3},{"t":24,"w":290,"v":6.9},{"t":24,"w":310,"v":11.2},{"t":24,"w":327,"v":13.0},{"t":24,"w":345,"v":11.8},{"t":24,"w":360,"v":10.0},{"t":24,"w":380,"v":8.2},{"t":24,"w":400,"v":7.0},{"t":24,"w":420,"v":6.0},{"t":24,"w":440,"v":4.8},{"t":24,"w":460,"v":3.7},{"t":24,"w":480,"v":2.7},{"t":24,"w":500,"v":1.8},{"t":24,"w":515,"v":1.5},{"t":24,"w":530,"v":1.4},{"t":24,"w":545,"v":1.7},{"t":24,"w":560,"v":2.0},{"t":24,"w":575,"v":0.9},{"t":24,"w":590,"v":0.2},{"t":24,"w":600,"v":0},
{"t":33,"w":230,"v":3.7},{"t":33,"w":242,"v":4.8},{"t":33,"w":255,"v":4.5},{"t":33,"w":272,"v":4.1},{"t":33,"w":290,"v":6.7},{"t":33,"w":310,"v":10.4},{"t":33,"w":327,"v":12.2},{"t":33,"w":345,"v":11.0},{"t":33,"w":360,"v":9.5},{"t":33,"w":380,"v":7.8},{"t":33,"w":400,"v":6.6},{"t":33,"w":420,"v":5.6},{"t":33,"w":440,"v":4.5},{"t":33,"w":460,"v":3.4},{"t":33,"w":480,"v":2.5},{"t":33,"w":500,"v":1.7},{"t":33,"w":515,"v":1.4},{"t":33,"w":530,"v":1.3},{"t":33,"w":545,"v":1.6},{"t":33,"w":560,"v":1.8},{"t":33,"w":575,"v":0.8},{"t":33,"w":590,"v":0.2},{"t":33,"w":600,"v":0},
{"t":38,"w":230,"v":3.5},{"t":38,"w":242,"v":4.65},{"t":38,"w":255,"v":4.4},{"t":38,"w":272,"v":4.05},{"t":38,"w":290,"v":6.6},{"t":38,"w":310,"v":10.2},{"t":38,"w":327,"v":11.95},{"t":38,"w":345,"v":10.8},{"t":38,"w":360,"v":9.35},{"t":38,"w":380,"v":7.65},{"t":38,"w":400,"v":6.5},{"t":38,"w":420,"v":5.5},{"t":38,"w":440,"v":4.4},{"t":38,"w":460,"v":3.3},{"t":38,"w":480,"v":2.45},{"t":38,"w":500,"v":1.65},{"t":38,"w":515,"v":1.35},{"t":38,"w":530,"v":1.25},{"t":38,"w":545,"v":1.55},{"t":38,"w":560,"v":1.7},{"t":38,"w":575,"v":0.8},{"t":38,"w":590,"v":0.2},{"t":38,"w":600,"v":0},
{"t":43,"w":230,"v":3.3},{"t":43,"w":242,"v":4.5},{"t":43,"w":255,"v":4.3},{"t":43,"w":272,"v":4.0},{"t":43,"w":290,"v":6.5},{"t":43,"w":310,"v":10.0},{"t":43,"w":327,"v":11.7},{"t":43,"w":345,"v":10.6},{"t":43,"w":360,"v":9.2},{"t":43,"w":380,"v":7.5},{"t":43,"w":400,"v":6.4},{"t":43,"w":420,"v":5.4},{"t":43,"w":440,"v":4.3},{"t":43,"w":460,"v":3.2},{"t":43,"w":480,"v":2.4},{"t":43,"w":500,"v":1.6},{"t":43,"w":515,"v":1.3},{"t":43,"w":530,"v":1.2},{"t":43,"w":545,"v":1.5},{"t":43,"w":560,"v":3.8},{"t":43,"w":575,"v":0.8},{"t":43,"w":590,"v":0.2},{"t":43,"w":600,"v":0}
],
"G": [
{"t":0,"w":230,"v":18.5},{"t":0,"w":238,"v":17.5},{"t":0,"w":248,"v":12.5},{"t":0,"w":255,"v":9.5},{"t":0,"w":265,"v":11.5},{"t":0,"w":280,"v":14.5},{"t":0,"w":290,"v":14.0},{"t":0,"w":300,"v":14.8},{"t":0,"w":310,"v":16.0},{"t":0,"w":320,"v":15.8},{"t":0,"w":335,"v":14.0},{"t":0,"w":345,"v":12.5},{"t":0,"w":355,"v":11.0},{"t":0,"w":370,"v":9.3},{"t":0,"w":390,"v":8.0},{"t":0,"w":410,"v":7.0},{"t":0,"w":440,"v":5.8},{"t":0,"w":470,"v":4.8},{"t":0,"w":490,"v":3.5},{"t":0,"w":510,"v":1.8},{"t":0,"w":540,"v":1.3},{"t":0,"w":570,"v":0.8},{"t":0,"w":600,"v":0},
{"t":3,"w":230,"v":20.0},{"t":3,"w":238,"v":19.0},{"t":3,"w":248,"v":12.8},{"t":3,"w":255,"v":9.8},{"t":3,"w":265,"v":12.2},{"t":3,"w":280,"v":16.0},{"t":3,"w":290,"v":15.5},{"t":3,"w":300,"v":16.5},{"t":3,"w":310,"v":18.0},{"t":3,"w":320,"v":17.5},{"t":3,"w":335,"v":15.2},{"t":3,"w":345,"v":13.2},{"t":3,"w":355,"v":11.0},{"t":3,"w":370,"v":9.0},{"t":3,"w":390,"v":7.4},{"t":3,"w":410,"v":6.4},{"t":3,"w":440,"v":5.2},{"t":3,"w":470,"v":4.3},{"t":3,"w":490,"v":3.2},{"t":3,"w":510,"v":1.6},{"t":3,"w":540,"v":1.2},{"t":3,"w":570,"v":0.7},{"t":3,"w":600,"v":0},
{"t":6,"w":230,"v":20.5},{"t":6,"w":238,"v":19.4},{"t":6,"w":248,"v":13.2},{"t":6,"w":255,"v":10.2},{"t":6,"w":265,"v":12.9},{"t":6,"w":280,"v":16.9},{"t":6,"w":290,"v":16.5},{"t":6,"w":300,"v":17.5},{"t":6,"w":310,"v":19.2},{"t":6,"w":320,"v":18.6},{"t":6,"w":335,"v":16.0},{"t":6,"w":345,"v":13.6},{"t":6,"w":355,"v":11.0},{"t":6,"w":370,"v":8.8},{"t":6,"w":390,"v":7.1},{"t":6,"w":410,"v":6.05},{"t":6,"w":440,"v":4.9},{"t":6,"w":470,"v":4.05},{"t":6,"w":490,"v":3.0},{"t":6,"w":510,"v":1.5},{"t":6,"w":540,"v":1.15},{"t":6,"w":570,"v":0.7},{"t":6,"w":600,"v":0},
{"t":9,"w":230,"v":21.0},{"t":9,"w":238,"v":19.8},{"t":9,"w":248,"v":13.5},{"t":9,"w":255,"v":10.5},{"t":9,"w":265,"v":13.5},{"t":9,"w":280,"v":17.8},{"t":9,"w":290,"v":17.5},{"t":9,"w":300,"v":18.5},{"t":9,"w":310,"v":20.5},{"t":9,"w":320,"v":19.8},{"t":9,"w":335,"v":16.8},{"t":9,"w":345,"v":14.0},{"t":9,"w":355,"v":11.0},{"t":9,"w":370,"v":8.6},{"t":9,"w":390,"v":6.8},{"t":9,"w":410,"v":5.7},{"t":9,"w":440,"v":4.6},{"t":9,"w":470,"v":3.8},{"t":9,"w":490,"v":2.8},{"t":9,"w":510,"v":1.4},{"t":9,"w":540,"v":1.1},{"t":9,"w":570,"v":0.7},{"t":9,"w":600,"v":0},
{"t":16,"w":230,"v":22.5},{"t":16,"w":238,"v":20.5},{"t":16,"w":248,"v":14.0},{"t":16,"w":255,"v":11.2},{"t":16,"w":265,"v":14.5},{"t":16,"w":280,"v":19.2},{"t":16,"w":290,"v":19.0},{"t":16,"w":300,"v":20.5},{"t":16,"w":310,"v":23.0},{"t":16,"w":320,"v":22.0},{"t":16,"w":335,"v":17.8},{"t":16,"w":345,"v":14.5},{"t":16,"w":355,"v":11.0},{"t":16,"w":370,"v":8.3},{"t":16,"w":390,"v":6.3},{"t":16,"w":410,"v":5.2},{"t":16,"w":440,"v":3.8},{"t":16,"w":470,"v":3.0},{"t":16,"w":490,"v":2.3},{"t":16,"w":510,"v":1.2},{"t":16,"w":540,"v":1.0},{"t":16,"w":570,"v":1.0},{"t":16,"w":600,"v":0},
{"t":20,"w":230,"v":22.3},{"t":20,"w":238,"v":20.5},{"t":20,"w":248,"v":14.25},{"t":20,"w":255,"v":11.4},{"t":20,"w":265,"v":15.0},{"t":20,"w":280,"v":19.6},{"t":20,"w":290,"v":19.4},{"t":20,"w":300,"v":21.0},{"t":20,"w":310,"v":23.8},{"t":20,"w":320,"v":22.8},{"t":20,"w":335,"v":18.15},{"t":20,"w":345,"v":14.65},{"t":20,"w":355,"v":11.0},{"t":20,"w":370,"v":8.2},{"t":20,"w":390,"v":6.15},{"t":20,"w":410,"v":5.0},{"t":20,"w":440,"v":3.55},{"t":20,"w":470,"v":2.75},{"t":20,"w":490,"v":2.15},{"t":20,"w":510,"v":1.15},{"t":20,"w":540,"v":0.95},{"t":20,"w":570,"v":0.9},{"t":20,"w":600,"v":0},
{"t":24,"w":230,"v":22.0},{"t":24,"w":238,"v":20.5},{"t":24,"w":248,"v":14.5},{"t":24,"w":255,"v":11.6},{"t":24,"w":265,"v":15.5},{"t":24,"w":280,"v":20.0},{"t":24,"w":290,"v":19.8},{"t":24,"w":300,"v":21.5},{"t":24,"w":310,"v":24.5},{"t":24,"w":320,"v":23.5},{"t":24,"w":335,"v":18.5},{"t":24,"w":345,"v":14.8},{"t":24,"w":355,"v":11.0},{"t":24,"w":370,"v":8.1},{"t":24,"w":390,"v":6.0},{"t":24,"w":410,"v":4.8},{"t":24,"w":440,"v":3.3},{"t":24,"w":470,"v":2.5},{"t":24,"w":490,"v":2.0},{"t":24,"w":510,"v":1.1},{"t":24,"w":540,"v":0.9},{"t":24,"w":570,"v":0.8},{"t":24,"w":600,"v":0},
{"t":33,"w":230,"v":21.5},{"t":33,"w":238,"v":20.3},{"t":33,"w":248,"v":14.8},{"t":33,"w":255,"v":11.9},{"t":33,"w":265,"v":16.3},{"t":33,"w":280,"v":20.3},{"t":33,"w":290,"v":20.2},{"t":33,"w":300,"v":22.0},{"t":33,"w":310,"v":25.7},{"t":33,"w":320,"v":24.5},{"t":33,"w":335,"v":18.8},{"t":33,"w":345,"v":15.0},{"t":33,"w":355,"v":11.0},{"t":33,"w":370,"v":8.0},{"t":33,"w":390,"v":5.8},{"t":33,"w":410,"v":4.5},{"t":33,"w":440,"v":3.0},{"t":33,"w":470,"v":2.3},{"t":33,"w":490,"v":1.8},{"t":33,"w":510,"v":1.0},{"t":33,"w":540,"v":0.8},{"t":33,"w":570,"v":0.6},{"t":33,"w":600,"v":0},
{"t":38,"w":230,"v":21.2},{"t":38,"w":238,"v":20.1},{"t":38,"w":248,"v":14.9},{"t":38,"w":255,"v":12.05},{"t":38,"w":265,"v":16.7},{"t":38,"w":280,"v":20.4},{"t":38,"w":290,"v":20.35},{"t":38,"w":300,"v":22.25},{"t":38,"w":310,"v":26.1},{"t":38,"w":320,"v":24.75},{"t":38,"w":335,"v":19.0},{"t":38,"w":345,"v":15.1},{"t":38,"w":355,"v":11.0},{"t":38,"w":370,"v":7.9},{"t":38,"w":390,"v":5.7},{"t":38,"w":410,"v":4.4},{"t":38,"w":440,"v":2.9},{"t":38,"w":470,"v":2.2},{"t":38,"w":490,"v":1.75},{"t":38,"w":510,"v":0.95},{"t":38,"w":540,"v":0.75},{"t":38,"w":570,"v":0.55},{"t":38,"w":600,"v":0},
{"t":43,"w":230,"v":21.0},{"t":43,"w":238,"v":20.0},{"t":43,"w":248,"v":15.0},{"t":43,"w":255,"v":12.2},{"t":43,"w":265,"v":17.0},{"t":43,"w":280,"v":20.5},{"t":43,"w":290,"v":20.5},{"t":43,"w":300,"v":22.5},{"t":43,"w":310,"v":26.5},{"t":43,"w":320,"v":25.0},{"t":43,"w":335,"v":19.2},{"t":43,"w":345,"v":15.2},{"t":43,"w":355,"v":11.0},{"t":43,"w":370,"v":7.8},{"t":43,"w":390,"v":5.6},{"t":43,"w":410,"v":4.3},{"t":43,"w":440,"v":2.8},{"t":43,"w":470,"v":2.1},{"t":43,"w":490,"v":1.7},{"t":43,"w":510,"v":0.9},{"t":43,"w":540,"v":0.7},{"t":43,"w":570,"v":0.5},{"t":43,"w":600,"v":0}
],
"H": [
{"t":0,"w":230,"v":15.0},{"t":0,"w":238,"v":14.5},{"t":0,"w":248,"v":9.5},{"t":0,"w":255,"v":7.6},{"t":0,"w":265,"v":9.5},{"t":0,"w":280,"v":12.2},{"t":0,"w":292,"v":11.3},{"t":0,"w":302,"v":12.5},{"t":0,"w":313,"v":13.8},{"t":0,"w":325,"v":13.4},{"t":0,"w":340,"v":12.0},{"t":0,"w":350,"v":11.0},{"t":0,"w":360,"v":9.8},{"t":0,"w":375,"v":8.7},{"t":0,"w":390,"v":8.2},{"t":0,"w":405,"v":7.3},{"t":0,"w":425,"v":5.2},{"t":0,"w":450,"v":2.8},{"t":0,"w":475,"v":2.0},{"t":0,"w":500,"v":1.6},{"t":0,"w":530,"v":1.0},{"t":0,"w":560,"v":0.4},{"t":0,"w":600,"v":0},
{"t":3,"w":230,"v":15.8},{"t":3,"w":238,"v":15.0},{"t":3,"w":248,"v":9.8},{"t":3,"w":255,"v":7.8},{"t":3,"w":265,"v":10.0},{"t":3,"w":280,"v":13.0},{"t":3,"w":292,"v":12.2},{"t":3,"w":302,"v":13.5},{"t":3,"w":313,"v":15.0},{"t":3,"w":325,"v":14.5},{"t":3,"w":340,"v":12.8},{"t":3,"w":350,"v":11.3},{"t":3,"w":360,"v":9.0},{"t":3,"w":375,"v":7.5},{"t":3,"w":390,"v":6.6},{"t":3,"w":405,"v":5.8},{"t":3,"w":425,"v":4.0},{"t":3,"w":450,"v":2.2},{"t":3,"w":475,"v":1.5},{"t":3,"w":500,"v":1.2},{"t":3,"w":530,"v":0.8},{"t":3,"w":560,"v":0.4},{"t":3,"w":600,"v":0},
{"t":6,"w":230,"v":16.2},{"t":6,"w":238,"v":15.25},{"t":6,"w":248,"v":10.0},{"t":6,"w":255,"v":7.9},{"t":6,"w":265,"v":10.4},{"t":6,"w":280,"v":13.8},{"t":6,"w":292,"v":13.0},{"t":6,"w":302,"v":14.4},{"t":6,"w":313,"v":16.1},{"t":6,"w":325,"v":15.6},{"t":6,"w":340,"v":13.4},{"t":6,"w":350,"v":11.4},{"t":6,"w":360,"v":8.8},{"t":6,"w":375,"v":7.0},{"t":6,"w":390,"v":6.0},{"t":6,"w":405,"v":5.1},{"t":6,"w":425,"v":3.6},{"t":6,"w":450,"v":1.95},{"t":6,"w":475,"v":1.3},{"t":6,"w":500,"v":1.0},{"t":6,"w":530,"v":0.7},{"t":6,"w":560,"v":0.35},{"t":6,"w":600,"v":0},
{"t":9,"w":230,"v":16.5},{"t":9,"w":238,"v":15.5},{"t":9,"w":248,"v":10.2},{"t":9,"w":255,"v":8.0},{"t":9,"w":265,"v":10.8},{"t":9,"w":280,"v":14.5},{"t":9,"w":292,"v":13.8},{"t":9,"w":302,"v":15.3},{"t":9,"w":313,"v":17.2},{"t":9,"w":325,"v":16.7},{"t":9,"w":340,"v":14.0},{"t":9,"w":350,"v":11.5},{"t":9,"w":360,"v":8.6},{"t":9,"w":375,"v":6.6},{"t":9,"w":390,"v":5.4},{"t":9,"w":405,"v":4.5},{"t":9,"w":425,"v":3.2},{"t":9,"w":450,"v":1.7},{"t":9,"w":475,"v":1.1},{"t":9,"w":500,"v":0.8},{"t":9,"w":530,"v":0.6},{"t":9,"w":560,"v":0.3},{"t":9,"w":600,"v":0},
{"t":16,"w":230,"v":17.5},{"t":16,"w":238,"v":16.0},{"t":16,"w":248,"v":10.5},{"t":16,"w":255,"v":8.2},{"t":16,"w":265,"v":11.8},{"t":16,"w":280,"v":15.8},{"t":16,"w":292,"v":15.5},{"t":16,"w":302,"v":17.3},{"t":16,"w":313,"v":19.5},{"t":16,"w":325,"v":18.8},{"t":16,"w":340,"v":15.0},{"t":16,"w":350,"v":11.6},{"t":16,"w":360,"v":8.3},{"t":16,"w":375,"v":6.0},{"t":16,"w":390,"v":4.8},{"t":16,"w":405,"v":3.8},{"t":16,"w":425,"v":2.6},{"t":16,"w":450,"v":1.3},{"t":16,"w":475,"v":0.9},{"t":16,"w":500,"v":0.6},{"t":16,"w":530,"v":0.4},{"t":16,"w":560,"v":0.3},{"t":16,"w":600,"v":0},
{"t":20,"w":230,"v":17.3},{"t":20,"w":238,"v":16.0},{"t":20,"w":248,"v":10.65},{"t":20,"w":255,"v":8.3},{"t":20,"w":265,"v":12.15},{"t":20,"w":280,"v":16.15},{"t":20,"w":292,"v":16.0},{"t":20,"w":302,"v":17.8},{"t":20,"w":313,"v":20.05},{"t":20,"w":325,"v":19.2},{"t":20,"w":340,"v":15.25},{"t":20,"w":350,"v":11.6},{"t":20,"w":360,"v":8.3},{"t":20,"w":375,"v":6.05},{"t":20,"w":390,"v":4.85},{"t":20,"w":405,"v":3.85},{"t":20,"w":425,"v":2.65},{"t":20,"w":450,"v":1.35},{"t":20,"w":475,"v":0.95},{"t":20,"w":500,"v":0.62},{"t":20,"w":530,"v":0.42},{"t":20,"w":560,"v":0.3},{"t":20,"w":600,"v":0},
{"t":24,"w":230,"v":17.0},{"t":24,"w":238,"v":16.0},{"t":24,"w":248,"v":10.8},{"t":24,"w":255,"v":8.4},{"t":24,"w":265,"v":12.5},{"t":24,"w":280,"v":16.5},{"t":24,"w":292,"v":16.5},{"t":24,"w":302,"v":18.3},{"t":24,"w":313,"v":20.6},{"t":24,"w":325,"v":19.6},{"t":24,"w":340,"v":15.5},{"t":24,"w":350,"v":11.6},{"t":24,"w":360,"v":8.3},{"t":24,"w":375,"v":6.1},{"t":24,"w":390,"v":4.9},{"t":24,"w":405,"v":3.9},{"t":24,"w":425,"v":2.7},{"t":24,"w":450,"v":1.4},{"t":24,"w":475,"v":1.0},{"t":24,"w":500,"v":0.65},{"t":24,"w":530,"v":0.45},{"t":24,"w":560,"v":0.3},{"t":24,"w":600,"v":0},
{"t":33,"w":230,"v":16.8},{"t":33,"w":238,"v":16.0},{"t":33,"w":248,"v":11.0},{"t":33,"w":255,"v":8.5},{"t":33,"w":265,"v":13.2},{"t":33,"w":280,"v":16.8},{"t":33,"w":292,"v":16.8},{"t":33,"w":302,"v":18.8},{"t":33,"w":313,"v":21.3},{"t":33,"w":325,"v":20.1},{"t":33,"w":340,"v":15.8},{"t":33,"w":350,"v":11.6},{"t":33,"w":360,"v":8.4},{"t":33,"w":375,"v":6.3},{"t":33,"w":390,"v":5.1},{"t":33,"w":405,"v":4.1},{"t":33,"w":425,"v":2.9},{"t":33,"w":450,"v":1.5},{"t":33,"w":475,"v":1.0},{"t":33,"w":500,"v":0.7},{"t":33,"w":530,"v":0.5},{"t":33,"w":560,"v":0.35},{"t":33,"w":600,"v":0},
{"t":38,"w":230,"v":16.6},{"t":38,"w":238,"v":16.0},{"t":38,"w":248,"v":11.1},{"t":38,"w":255,"v":8.55},{"t":38,"w":265,"v":13.5},{"t":38,"w":280,"v":16.9},{"t":38,"w":292,"v":16.9},{"t":38,"w":302,"v":19.0},{"t":38,"w":313,"v":21.55},{"t":38,"w":325,"v":20.3},{"t":38,"w":340,"v":15.9},{"t":38,"w":350,"v":11.6},{"t":38,"w":360,"v":8.45},{"t":38,"w":375,"v":6.4},{"t":38,"w":390,"v":5.2},{"t":38,"w":405,"v":4.2},{"t":38,"w":425,"v":2.95},{"t":38,"w":450,"v":1.55},{"t":38,"w":475,"v":1.05},{"t":38,"w":500,"v":0.72},{"t":38,"w":530,"v":0.5},{"t":38,"w":560,"v":0.38},{"t":38,"w":600,"v":0},
{"t":43,"w":230,"v":16.5},{"t":43,"w":238,"v":16.0},{"t":43,"w":248,"v":11.2},{"t":43,"w":255,"v":8.6},{"t":43,"w":265,"v":13.8},{"t":43,"w":280,"v":17.0},{"t":43,"w":292,"v":17.0},{"t":43,"w":302,"v":19.2},{"t":43,"w":313,"v":21.8},{"t":43,"w":325,"v":20.5},{"t":43,"w":340,"v":16.0},{"t":43,"w":350,"v":11.6},{"t":43,"w":360,"v":8.5},{"t":43,"w":375,"v":6.5},{"t":43,"w":390,"v":5.3},{"t":43,"w":405,"v":4.3},{"t":43,"w":425,"v":3.0},{"t":43,"w":450,"v":1.6},{"t":43,"w":475,"v":1.1},{"t":43,"w":500,"v":0.75},{"t":43,"w":530,"v":0.5},{"t":43,"w":560,"v":0.4},{"t":43,"w":600,"v":0}
]
},
"concat": [
{"width": 373, "height": 127, "title": {"text": "Benzene pH 3", "offset": -18}, "data": {"name": "A"},
 "layer": [
  {"mark": {"type": "line", "interpolate": "monotone", "strokeWidth": 2},
   "encoding": {
    "x": {"field": "w", "type": "quantitative", "scale": {"domain": [230, 600], "nice": false, "zero": false}, "axis": {"values": [250, 300, 350, 400, 450, 500, 550, 600], "title": null}},
    "y": {"field": "v", "type": "quantitative", "scale": {"domain": [0, 8], "nice": false}, "axis": {"values": [0, 2, 4, 6, 8], "title": null}},
    "color": {"field": "t", "type": "quantitative", "scale": {"domain": [0, 5.5, 16.5, 27.5, 38.5, 44], "range": ["#00007f", "#0000ff", "#00ffff", "#ffff00", "#ff0000", "#7f0000"], "interpolate": "rgb"},
      "legend": {"orient": "none", "legendX": 902.5, "legendY": 194, "direction": "vertical", "gradientLength": 324, "gradientThickness": 31, "values": [0, 5, 10, 15, 20, 25, 30, 35, 40], "title": "\u00a0\u00a0\u00a0\u00a0\u00a0\u00a0\u00a0\u00a0Time (h)", "titleOrient": "left", "titleAngle": 270, "titleAnchor": "middle", "titleBaseline": "middle", "titlePadding": -33.5, "labelFontSize": 14, "labelColor": "#262626", "titleFontSize": 18, "titleColor": "#262626", "titleFontWeight": "normal", "labelOffset": 6, "gradientStrokeColor": "#262626", "gradientStrokeWidth": 0.6}},
    "detail": {"field": "t", "type": "quantitative"}
   }},
  {"data": {"values": [{}]}, "mark": {"type": "text", "text": "A", "fontSize": 17, "color": "#000000"}, "encoding": {"x": {"datum": 577}, "y": {"datum": 6.7}}},
  {"data": {"values": [{}]}, "mark": {"type": "text", "text": "×10", "fontSize": 17, "align": "right", "color": "#262626"}, "encoding": {"x": {"datum": 270.5}, "y": {"datum": 8.63}}},
  {"data": {"values": [{}]}, "mark": {"type": "text", "text": "-3", "fontSize": 15, "align": "left", "color": "#262626"}, "encoding": {"x": {"datum": 271.5}, "y": {"datum": 8.85}}}
 ]},
{"width": 373, "height": 127, "title": {"text": "Benzene pH 6", "offset": -18}, "data": {"name": "B"},
 "layer": [
  {"mark": {"type": "line", "interpolate": "monotone", "strokeWidth": 2},
   "encoding": {
    "x": {"field": "w", "type": "quantitative", "scale": {"domain": [230, 600], "nice": false, "zero": false}, "axis": {"values": [250, 300, 350, 400, 450, 500, 550, 600], "title": null}},
    "y": {"field": "v", "type": "quantitative", "scale": {"domain": [0, 8], "nice": false}, "axis": {"values": [0, 2, 4, 6, 8], "title": null}},
    "color": {"field": "t", "type": "quantitative", "scale": {"domain": [0, 5.5, 16.5, 27.5, 38.5, 44], "range": ["#00007f", "#0000ff", "#00ffff", "#ffff00", "#ff0000", "#7f0000"], "interpolate": "rgb"}, "legend": null},
    "detail": {"field": "t", "type": "quantitative"}
   }},
  {"data": {"values": [{}]}, "mark": {"type": "text", "text": "B", "fontSize": 17, "color": "#000000"}, "encoding": {"x": {"datum": 577}, "y": {"datum": 6.7}}},
  {"data": {"values": [{}]}, "mark": {"type": "text", "text": "×10", "fontSize": 17, "align": "right", "color": "#262626"}, "encoding": {"x": {"datum": 270.5}, "y": {"datum": 8.63}}},
  {"data": {"values": [{}]}, "mark": {"type": "text", "text": "-3", "fontSize": 15, "align": "left", "color": "#262626"}, "encoding": {"x": {"datum": 271.5}, "y": {"datum": 8.85}}}
 ]},
{"width": 373, "height": 127, "title": "Toluene pH 3", "data": {"name": "C"},
 "layer": [
  {"mark": {"type": "line", "interpolate": "monotone", "strokeWidth": 2},
   "encoding": {
    "x": {"field": "w", "type": "quantitative", "scale": {"domain": [230, 600], "nice": false, "zero": false}, "axis": {"values": [250, 300, 350, 400, 450, 500, 550, 600], "title": null}},
    "y": {"field": "v", "type": "quantitative", "scale": {"domain": [0, 20], "nice": false}, "axis": {"values": [0, 10, 20], "labelExpr": "format(datum.value/1000, '.2~f')", "title": "AQY", "titleX": -69, "titleY": 151, "titleAngle": 270, "titleAlign": "center", "titleBaseline": "middle"}},
    "color": {"field": "t", "type": "quantitative", "scale": {"domain": [0, 5.5, 16.5, 27.5, 38.5, 44], "range": ["#00007f", "#0000ff", "#00ffff", "#ffff00", "#ff0000", "#7f0000"], "interpolate": "rgb"}, "legend": null},
    "detail": {"field": "t", "type": "quantitative"}
   }},
  {"data": {"values": [{}]}, "mark": {"type": "text", "text": "C", "fontSize": 17, "color": "#000000"}, "encoding": {"x": {"datum": 577}, "y": {"datum": 16.7}}}
 ]},
{"width": 373, "height": 127, "title": "Toluene pH 6", "data": {"name": "D"},
 "layer": [
  {"mark": {"type": "line", "interpolate": "monotone", "strokeWidth": 2},
   "encoding": {
    "x": {"field": "w", "type": "quantitative", "scale": {"domain": [230, 600], "nice": false, "zero": false}, "axis": {"values": [250, 300, 350, 400, 450, 500, 550, 600], "title": null}},
    "y": {"field": "v", "type": "quantitative", "scale": {"domain": [0, 20], "nice": false}, "axis": {"values": [0, 10, 20], "labelExpr": "format(datum.value/1000, '.2~f')", "title": "AQY", "titleX": -64, "titleY": 157, "titleAngle": 270, "titleAlign": "center", "titleBaseline": "middle"}},
    "color": {"field": "t", "type": "quantitative", "scale": {"domain": [0, 5.5, 16.5, 27.5, 38.5, 44], "range": ["#00007f", "#0000ff", "#00ffff", "#ffff00", "#ff0000", "#7f0000"], "interpolate": "rgb"}, "legend": null},
    "detail": {"field": "t", "type": "quantitative"}
   }},
  {"data": {"values": [{}]}, "mark": {"type": "text", "text": "D", "fontSize": 17, "color": "#000000"}, "encoding": {"x": {"datum": 577}, "y": {"datum": 16.7}}}
 ]},
{"width": 373, "height": 127, "title": "p-xylene pH 3", "data": {"name": "E"},
 "layer": [
  {"mark": {"type": "line", "interpolate": "monotone", "strokeWidth": 2},
   "encoding": {
    "x": {"field": "w", "type": "quantitative", "scale": {"domain": [230, 600], "nice": false, "zero": false}, "axis": {"values": [250, 300, 350, 400, 450, 500, 550, 600], "title": null}},
    "y": {"field": "v", "type": "quantitative", "scale": {"domain": [0, 40], "nice": false}, "axis": {"values": [0, 20, 40], "labelExpr": "format(datum.value/1000, '.2~f')", "title": null}},
    "color": {"field": "t", "type": "quantitative", "scale": {"domain": [0, 5.5, 16.5, 27.5, 38.5, 44], "range": ["#00007f", "#0000ff", "#00ffff", "#ffff00", "#ff0000", "#7f0000"], "interpolate": "rgb"}, "legend": null},
    "detail": {"field": "t", "type": "quantitative"}
   }},
  {"data": {"values": [{}]}, "mark": {"type": "text", "text": "E", "fontSize": 17, "color": "#000000"}, "encoding": {"x": {"datum": 577}, "y": {"datum": 33.4}}}
 ]},
{"width": 373, "height": 127, "title": "p-xylene pH 6", "data": {"name": "F"},
 "layer": [
  {"mark": {"type": "line", "interpolate": "monotone", "strokeWidth": 2},
   "encoding": {
    "x": {"field": "w", "type": "quantitative", "scale": {"domain": [230, 600], "nice": false, "zero": false}, "axis": {"values": [250, 300, 350, 400, 450, 500, 550, 600], "title": null}},
    "y": {"field": "v", "type": "quantitative", "scale": {"domain": [0, 20], "nice": false}, "axis": {"values": [0, 10, 20], "labelExpr": "format(datum.value/1000, '.2~f')", "title": null}},
    "color": {"field": "t", "type": "quantitative", "scale": {"domain": [0, 5.5, 16.5, 27.5, 38.5, 44], "range": ["#00007f", "#0000ff", "#00ffff", "#ffff00", "#ff0000", "#7f0000"], "interpolate": "rgb"}, "legend": null},
    "detail": {"field": "t", "type": "quantitative"}
   }},
  {"data": {"values": [{}]}, "mark": {"type": "text", "text": "F", "fontSize": 17, "color": "#000000"}, "encoding": {"x": {"datum": 577}, "y": {"datum": 16.7}}}
 ]},
{"width": 373, "height": 127, "title": "Naphthalene pH 3", "data": {"name": "G"},
 "layer": [
  {"mark": {"type": "line", "interpolate": "monotone", "strokeWidth": 2},
   "encoding": {
    "x": {"field": "w", "type": "quantitative", "scale": {"domain": [230, 600], "nice": false, "zero": false}, "axis": {"values": [250, 300, 350, 400, 450, 500, 550, 600], "title": "Wavelength (nm)", "titlePadding": 10}},
    "y": {"field": "v", "type": "quantitative", "scale": {"domain": [0, 30], "nice": false}, "axis": {"values": [0, 10, 20, 30], "labelExpr": "format(datum.value/1000, '.2~f')", "title": null}},
    "color": {"field": "t", "type": "quantitative", "scale": {"domain": [0, 5.5, 16.5, 27.5, 38.5, 44], "range": ["#00007f", "#0000ff", "#00ffff", "#ffff00", "#ff0000", "#7f0000"], "interpolate": "rgb"}, "legend": null},
    "detail": {"field": "t", "type": "quantitative"}
   }},
  {"data": {"values": [{}]}, "mark": {"type": "text", "text": "G", "fontSize": 17, "color": "#000000"}, "encoding": {"x": {"datum": 577}, "y": {"datum": 25}}}
 ]},
{"width": 373, "height": 127, "title": {"text": "Naphthalene pH 6", "offset": 3}, "data": {"name": "H"},
 "layer": [
  {"mark": {"type": "line", "interpolate": "monotone", "strokeWidth": 2},
   "encoding": {
    "x": {"field": "w", "type": "quantitative", "scale": {"domain": [230, 600], "nice": false, "zero": false}, "axis": {"values": [250, 300, 350, 400, 450, 500, 550, 600], "title": "Wavelength (nm)", "titlePadding": 10}},
    "y": {"field": "v", "type": "quantitative", "scale": {"domain": [0, 25], "nice": false}, "axis": {"values": [0, 10, 20], "labelExpr": "format(datum.value/1000, '.2~f')", "title": null}},
    "color": {"field": "t", "type": "quantitative", "scale": {"domain": [0, 5.5, 16.5, 27.5, 38.5, 44], "range": ["#00007f", "#0000ff", "#00ffff", "#ffff00", "#ff0000", "#7f0000"], "interpolate": "rgb"}, "legend": null},
    "detail": {"field": "t", "type": "quantitative"}
   }},
  {"data": {"values": [{}]}, "mark": {"type": "text", "text": "H", "fontSize": 17, "color": "#000000"}, "encoding": {"x": {"datum": 577}, "y": {"datum": 20.9}}}
 ]}
]
}
